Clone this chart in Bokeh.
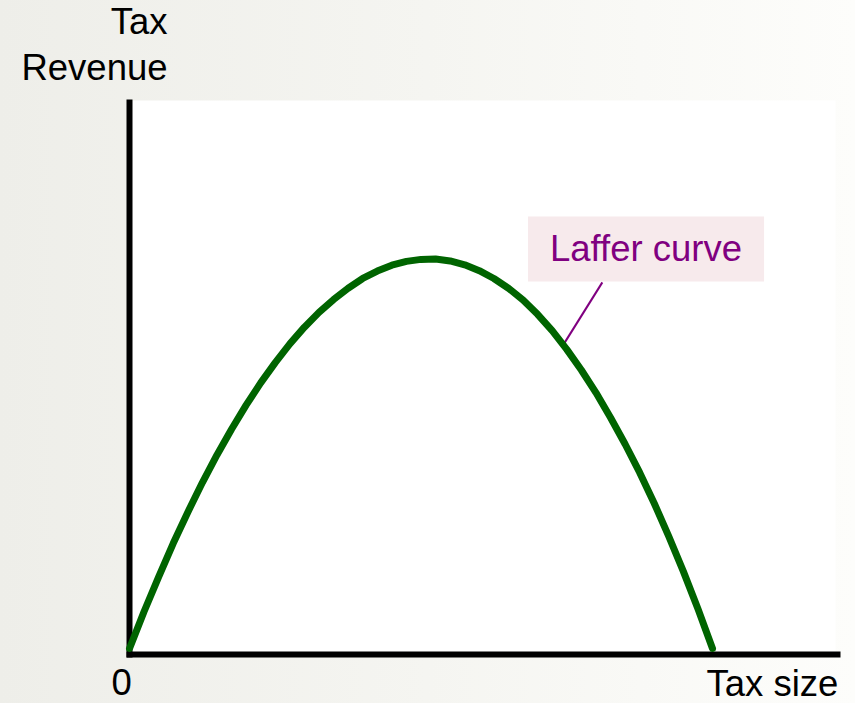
import numpy as np
from bokeh.plotting import figure
from bokeh.models import Range1d, Label, FixedTicker, GlobalInlineStyleSheet, BoxAnnotation
from bokeh.embed import file_html
from bokeh.resources import INLINE

# Data (tax rate, revenue as % of the peak)
tax_rate = [0, 2.5, 5, 7.5, 10, 12.5, 15, 17.5, 20, 22.5, 25, 27.5, 30, 32.5, 35, 37.5, 40, 42.5, 45,
            47.5, 50, 52.5, 55, 57.5, 60, 62.5, 65, 67.5, 70, 72.5, 75, 77.5, 80, 82.5, 85, 87.5, 90,
            92.5, 95, 97.5, 100]
revenue = [0, 9.5, 18.4, 27.0, 35.0, 42.6, 49.7, 56.3, 62.5, 68.2, 73.4, 78.2, 82.5, 86.3, 89.6, 92.5,
           95.0, 96.9, 98.4, 99.4, 99.9, 100.0, 99.5, 98.5, 97.0, 95.0, 92.5, 89.5, 85.8, 81.6, 76.8,
           71.5, 65.7, 59.3, 52.5, 45.2, 37.3, 28.8, 19.8, 10.2, 0]

x_title = "Tax size"
y_title_lines = ["Tax", "Revenue"]
origin_label = "0"
curve_label = "Laffer curve"

FONT = "Liberation Sans"
FS = "36.5px"

p = figure(width=855, height=703, output_backend="svg", toolbar_location=None,
           x_range=Range1d(-22.13, 124.53), y_range=Range1d(-14.12, 166.37),
           min_border=0)
p.stylesheets = [GlobalInlineStyleSheet(
    css="html, body { background: linear-gradient(to right, #eeeee9 0%, #f5f5f1 50%, #fdfdfb 100%); }")]
p.border_fill_color = None
p.background_fill_color = None
p.outline_line_color = None
p.grid.visible = False

# white plotting area
p.add_layout(BoxAnnotation(left=0, right=121.1, bottom=-1.5, top=140.7,
                           fill_color="white", fill_alpha=1.0, line_color=None, level="underlay"))

p.xaxis.fixed_location = -1.5
p.xaxis.bounds = (0, 121.4)
p.yaxis.fixed_location = 0
p.yaxis.bounds = (-1.5, 140.2)
for ax in (p.xaxis, p.yaxis):
    ax.ticker = FixedTicker(ticks=[])
    ax.axis_line_width = 6
    ax.axis_line_color = "black"
    ax.axis_line_cap = "square"
    ax.major_tick_line_color = None
    ax.minor_tick_line_color = None
    ax.major_label_text_color = None
    ax.major_tick_out = 0
    ax.major_tick_in = 0
    ax.major_label_standoff = 0

p.line(tax_rate, revenue, line_color="#006400", line_width=7, line_join="round", line_cap="round",
       level="overlay")

# leader line from the curve to the label box
lx = 74.4
ly = float(np.interp(lx, tax_rate, revenue))
p.segment(x0=[lx], y0=[ly], x1=[81.1], y1=[94.0], line_color="#800080", line_width=2)

p.add_layout(Label(x=88.6, y=102.6, text=curve_label, text_align="center", text_baseline="middle",
                   text_font=FONT, text_font_size=FS, text_color="#800080",
                   background_fill_color="#f7eaec", padding=(22, 12)))

p.add_layout(Label(x=-1.37, y=-8.5, text=origin_label, text_align="center", text_baseline="alphabetic",
                   text_font=FONT, text_font_size=FS, text_color="black"))
p.add_layout(Label(x=121.6, y=-9.0, text=x_title, text_align="right", text_baseline="alphabetic",
                   text_font=FONT, text_font_size=FS, text_color="black"))
p.add_layout(Label(x=6.52, y=161.0, text=y_title_lines[0], text_align="right", text_baseline="alphabetic",
                   text_font=FONT, text_font_size=FS, text_color="black"))
p.add_layout(Label(x=6.52, y=149.2, text=y_title_lines[1], text_align="right", text_baseline="alphabetic",
                   text_font=FONT, text_font_size=FS, text_color="black"))

open("out.html", "w").write(file_html(p, INLINE))
